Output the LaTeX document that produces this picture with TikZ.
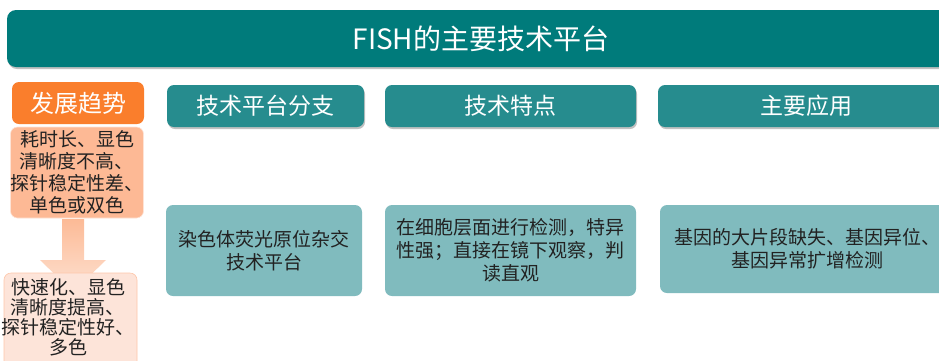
\documentclass[tikz,border=0pt]{standalone}
\usepackage{fontspec}
\setmainfont{Noto Sans CJK SC}
\usetikzlibrary{shadows}
\definecolor{titlebg}{RGB}{0,123,123}
\definecolor{hdrbg}{RGB}{38,140,142}
\definecolor{contbg}{RGB}{128,187,190}
\definecolor{orangebg}{RGB}{250,126,44}
\definecolor{pinkA}{RGB}{253,185,149}
\definecolor{pinkB}{RGB}{253,228,217}
\definecolor{arrowtop}{RGB}{252,186,150}
\definecolor{arrowbot}{RGB}{254,226,210}
\definecolor{txtdark}{RGB}{34,34,34}
\begin{document}
\begin{tikzpicture}[x=1pt,y=-1pt,
  box/.style={rounded corners=7pt, inner sep=0pt, align=center, anchor=center},
  shd/.style={drop shadow={shadow xshift=1pt,shadow yshift=-2pt,opacity=0.35,fill=black!70}},
  titlebox/.style={box, fill=titlebg, text=white, font=\fontsize{28}{30}\selectfont, rounded corners=9pt, shd},
  hdrbox/.style={box, fill=hdrbg, text=white, font=\fontsize{23}{26}\selectfont, shd},
  contbox/.style={box, fill=contbg, text=txtdark, font=\fontsize{19}{23}\selectfont},
  trendhdr/.style={box, fill=orangebg, text=white, font=\fontsize{24}{26}\selectfont},
  trendbox/.style={box, fill=pinkA, draw=white!60!pinkA, line width=0.6pt, text=txtdark, font=\fontsize{19}{22}\selectfont},
  trendbox2/.style={box, fill=pinkB, draw=pinkA!70!pinkB, line width=0.6pt},
  trendtxt/.style={inner sep=0pt, align=center, text=txtdark, font=\fontsize{19}{20}\selectfont}
]
\useasboundingbox (0,0) rectangle (939,360);
\clip (0,0) rectangle (939,360);

% title bar
\node[titlebox, minimum width=948pt, minimum height=57pt] (title) at (481,38.5) {FISH的主要技术平台};

% column headers
\node[hdrbox, minimum width=197pt, minimum height=42pt] (h1) at (265.5,106) {技术平台分支};
\node[hdrbox, minimum width=251pt, minimum height=42pt] (h2) at (510.5,106) {技术特点};
\node[hdrbox, minimum width=297pt, minimum height=42pt] (h3) at (806.5,106) {主要应用};

% content boxes
\node[contbox, minimum width=196pt, minimum height=91pt] (c1) at (264,250.5) {染色体荧光原位杂交\\技术平台};
\node[contbox, minimum width=251pt, minimum height=91pt] (c2) at (510.5,250.5) {在细胞层面进行检测，特异\\性强；直接在镜下观察，判\\读直观};
\node[contbox, minimum width=295pt, minimum height=88pt] (c3) at (807.5,249) {基因的大片段缺失、基因异位、\\基因异常扩增检测};

% trend column
\node[trendhdr, minimum width=132pt, minimum height=42pt] (t0) at (78,103) {发展趋势};
\node[trendbox, minimum width=132pt, minimum height=91pt] (t1) at (77,172.5) {耗时长、显色\\清晰度不高、\\探针稳定性差、\\单色或双色};

% block arrow between the two trend boxes
\shade[top color=arrowtop, bottom color=arrowbot]
  (62,219) -- (84,219) -- (84,260) -- (106,260) -- (73,292) -- (40,260) -- (62,260) -- cycle;

\node[trendbox2, minimum width=133pt, minimum height=130pt] (t2) at (70.5,338) {};
\node[trendtxt] (t2txt) at (68,317) {快速化、显色\\清晰度提高、\\探针稳定性好、\\多色};
\end{tikzpicture}
\end{document}
